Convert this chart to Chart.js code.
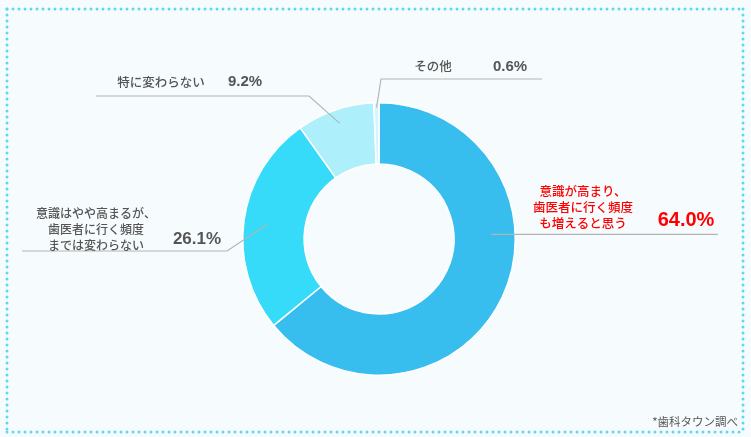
<!DOCTYPE html>
<html>
<head>
<meta charset="utf-8">
<script src="https://cdn.jsdelivr.net/npm/chart.js@4/dist/chart.umd.min.js"></script>
<style>
  html, body { margin: 0; padding: 0; background: #F6FCFE; }
  canvas { display: block; }
</style>
</head>
<body>
<canvas id="c" width="751" height="437"></canvas>
<script>
// ---- data ----
const categories = [
  ["意識が高まり、", "歯医者に行く頻度", "も増えると思う"],
  ["意識はやや高まるが、", "歯医者に行く頻度", "までは変わらない"],
  ["特に変わらない"],
  ["その他"]
];
const values = [64.0, 26.1, 9.2, 0.6];
const valueLabels = ["64.0%", "26.1%", "9.2%", "0.6%"];
const sourceNote = "*歯科タウン調べ";

// ---- styles ----
const sliceColors = ["#37BEEF", "#35DBF8", "#ADEFFB", "#D6F5FC"];
const jp = '"Noto Sans CJK JP", "Noto Sans", sans-serif';
const num = '"Liberation Sans", Arial, sans-serif';

// label layout: anchor angle fraction in slice, radial fraction, elbow, end, text positions
const labelLayout = [
  { af: 0.38, rf: 0.61, elbow: null, end: [718, null], color: "#FF0000",
    text: { x: 583, ys: [191, 207, 223], size: 12.5 }, val: { x: 686, y: 220, size: 20 } },
  { af: 0.5, rf: 0.61, elbow: [227, 251], end: [22, 251], color: "#555555",
    text: { x: 96, ys: [213, 229, 245], size: 12 }, val: { x: 197, y: 239, size: 17 } },
  { af: 0.5, rf: 0.77, elbow: [309, 96], end: [96, 96], color: "#555555",
    text: { x: 161, ys: [82], size: 12.5 }, val: { x: 245, y: 82, size: 15 } },
  { af: 0.5, rf: 0.92, elbow: [381, 79], end: [542, 79], color: "#555555",
    text: { x: 433, ys: [66], size: 12.5 }, val: { x: 510, y: 67, size: 15 } }
];

const decor = {
  id: "decor",
  beforeDraw(chart) {
    const ctx = chart.ctx;
    ctx.save();
    ctx.fillStyle = "#5DD8F3";
    const x0 = 7, y0 = 9, x1 = 743, y1 = 432, step = 6;
    for (let x = x0; x <= x1; x += step) {
      ctx.beginPath(); ctx.arc(x, y0, 1.5, 0, Math.PI * 2); ctx.fill();
      ctx.beginPath(); ctx.arc(x, y1, 1.5, 0, Math.PI * 2); ctx.fill();
    }
    for (let y = y0; y <= y1; y += step) {
      ctx.beginPath(); ctx.arc(x0, y, 1.5, 0, Math.PI * 2); ctx.fill();
      ctx.beginPath(); ctx.arc(x1, y, 1.5, 0, Math.PI * 2); ctx.fill();
    }
    ctx.restore();
  },
  afterDraw(chart) {
    const ctx = chart.ctx;
    const meta = chart.getDatasetMeta(0);
    ctx.save();
    meta.data.forEach((arc, i) => {
      const L = labelLayout[i];
      const p = arc.getProps(["x", "y", "startAngle", "endAngle", "innerRadius", "outerRadius"], true);
      const a = p.startAngle + (p.endAngle - p.startAngle) * L.af;
      const r = p.innerRadius + (p.outerRadius - p.innerRadius) * L.rf;
      const ax = p.x + r * Math.cos(a), ay = p.y + r * Math.sin(a);
      ctx.strokeStyle = "#B4B4B4";
      ctx.lineWidth = 1.2;
      ctx.beginPath();
      ctx.moveTo(ax, ay);
      if (L.elbow) {
        ctx.lineTo(L.elbow[0], L.elbow[1]);
        ctx.lineTo(L.end[0], L.end[1]);
      } else {
        ctx.lineTo(L.end[0], ay);
      }
      ctx.stroke();

      ctx.fillStyle = L.color;
      ctx.textAlign = "center";
      ctx.textBaseline = "middle";
      ctx.font = `500 ${L.text.size}px ${jp}`;
      categories[i].forEach((line, k) => ctx.fillText(line, L.text.x, L.text.ys[k]));
      ctx.font = `bold ${L.val.size}px ${num}`;
      ctx.fillText(valueLabels[i], L.val.x, L.val.y);
    });
    ctx.fillStyle = "#555555";
    ctx.textAlign = "right";
    ctx.font = `11.5px ${jp}`;
    ctx.fillText(sourceNote, 738, 422);
    ctx.restore();
  }
};

new Chart(document.getElementById("c"), {
  type: "doughnut",
  data: {
    labels: categories.map(c => c.join("")),
    datasets: [{
      data: values,
      backgroundColor: sliceColors,
      borderColor: "#FFFFFF",
      borderWidth: 1.5
    }]
  },
  options: {
    responsive: false,
    animation: false,
    cutout: "55%",
    layout: { padding: { left: 242, right: 235, top: 102, bottom: 61 } },
    plugins: { legend: { display: false }, tooltip: { enabled: false } }
  },
  plugins: [decor]
});
</script>
</body>
</html>
